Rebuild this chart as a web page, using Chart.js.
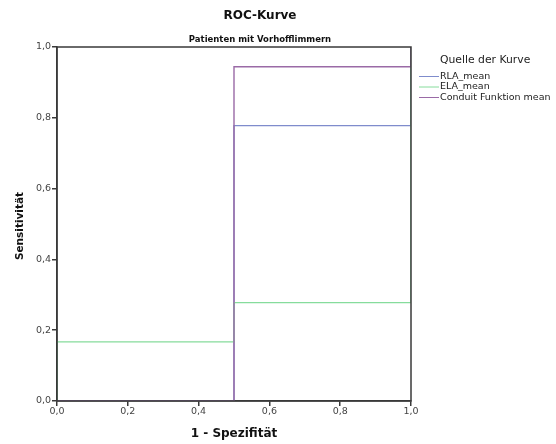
<!DOCTYPE html>
<html>
<head>
<meta charset="utf-8">
<script src="https://cdn.jsdelivr.net/npm/chart.js@4"></script>
<style>
  html, body { margin: 0; padding: 0; background: #fff; }
  #wrap { width: 556px; height: 444px; position: relative; }
</style>
</head>
<body>
<div id="wrap"><canvas id="rocChart"></canvas></div>
<script>
// ROC step curves, x = 1 - Spezifität, y = Sensitivität
const seriesNames = ['RLA_mean', 'ELA_mean', 'Conduit Funktion mean'];
const rlaX = [0, 0.5, 0.5, 1, 1];
const rlaY = [0, 0, 0.778, 0.778, 1];
const elaX = [0, 0, 0.5, 0.5, 1, 1];
const elaY = [0, 0.167, 0.167, 0.278, 0.278, 1];
const conduitX = [0, 0.5, 0.5, 1, 1];
const conduitY = [0, 0, 0.944, 0.944, 1];
const tickValues = [0, 0.2, 0.4, 0.6, 0.8, 1.0];
const lineColors = ['#7f8ccc', '#86dc9c', '#9a6aa6'];

const toPoints = (xs, ys) => xs.map((x, i) => ({ x: x, y: ys[i] }));

// titles, frame and legend drawn by hand (SPSS look)
const decorPlugin = {
    id: 'decor',
    afterDraw(chart) {
        const c = chart.ctx;
        const a = chart.chartArea;
        c.save();
        // full frame on top of the curves
        c.strokeStyle = '#3a3a3a';
        c.lineWidth = 1.5;
        c.strokeRect(a.left, a.top, a.right - a.left, a.bottom - a.top);

        c.fillStyle = '#111';
        c.textAlign = 'center';
        c.textBaseline = 'middle';
        c.font = 'bold 12px "DejaVu Sans"';
        c.fillText('ROC-Kurve', 260, 16);
        c.font = 'bold 8.5px "DejaVu Sans"';
        c.fillText('Patienten mit Vorhofflimmern', 260, 40);
        c.font = 'bold 12px "DejaVu Sans"';
        c.fillText('1 - Spezifität', 234, 434);

        c.save();
        c.translate(20, 226);
        c.rotate(-Math.PI / 2);
        c.font = 'bold 10.5px "DejaVu Sans"';
        c.fillText('Sensitivität', 0, 0);
        c.restore();

        // legend
        c.textAlign = 'left';
        c.font = '10.8px "DejaVu Sans"';
        c.fillStyle = '#222';
        c.fillText('Quelle der Kurve', 440, 60);
        c.font = '9.5px "DejaVu Sans"';
        c.lineWidth = 1;
        seriesNames.forEach((name, i) => {
            const y = 76.5 + i * 10.5;
            c.strokeStyle = lineColors[i];
            c.beginPath();
            c.moveTo(419, y);
            c.lineTo(439, y);
            c.stroke();
            c.fillText(name, 440, y);
        });
        c.restore();
    }
};

const ctx = document.getElementById('rocChart').getContext('2d');
new Chart(ctx, {
    type: 'line',
    data: {
        datasets: [
            { label: seriesNames[0], data: toPoints(rlaX, rlaY), borderColor: lineColors[0], order: 2 },
            { label: seriesNames[1], data: toPoints(elaX, elaY), borderColor: lineColors[1], order: 1 },
            { label: seriesNames[2], data: toPoints(conduitX, conduitY), borderColor: lineColors[2], order: 0 }
        ].map(d => Object.assign(d, { borderWidth: 1.4, pointRadius: 0, tension: 0, fill: false }))
    },
    options: {
        responsive: true,
        maintainAspectRatio: false,
        animation: false,
        layout: { padding: { left: 0, right: 145, top: 47, bottom: 0 } },
        plugins: {
            legend: { display: false },
            title: { display: false },
            tooltip: { enabled: false }
        },
        scales: {
            x: {
                type: 'linear',
                min: 0,
                max: 1,
                afterBuildTicks: s => { s.ticks = tickValues.map(v => ({ value: v })); },
                afterFit: s => { s.height = 43; },
                grid: { drawOnChartArea: false, tickLength: 5, color: '#3a3a3a', lineWidth: 1.5 },
                border: { color: '#3a3a3a', width: 1.5 },
                ticks: {
                    color: '#444',
                    font: { family: 'DejaVu Sans', size: 9.5 },
                    padding: 0,
                    maxRotation: 0,
                    callback: v => v.toFixed(1).replace('.', ',')
                }
            },
            y: {
                type: 'linear',
                min: 0,
                max: 1,
                afterBuildTicks: s => { s.ticks = tickValues.map(v => ({ value: v })); },
                afterFit: s => { s.width = 57; },
                grid: { drawOnChartArea: false, tickLength: 5, color: '#3a3a3a', lineWidth: 1.5 },
                border: { color: '#3a3a3a', width: 1.5 },
                ticks: {
                    color: '#444',
                    font: { family: 'DejaVu Sans', size: 9.5 },
                    padding: 1,
                    callback: v => v.toFixed(1).replace('.', ',')
                }
            }
        }
    },
    plugins: [decorPlugin]
});
</script>
</body>
</html>
